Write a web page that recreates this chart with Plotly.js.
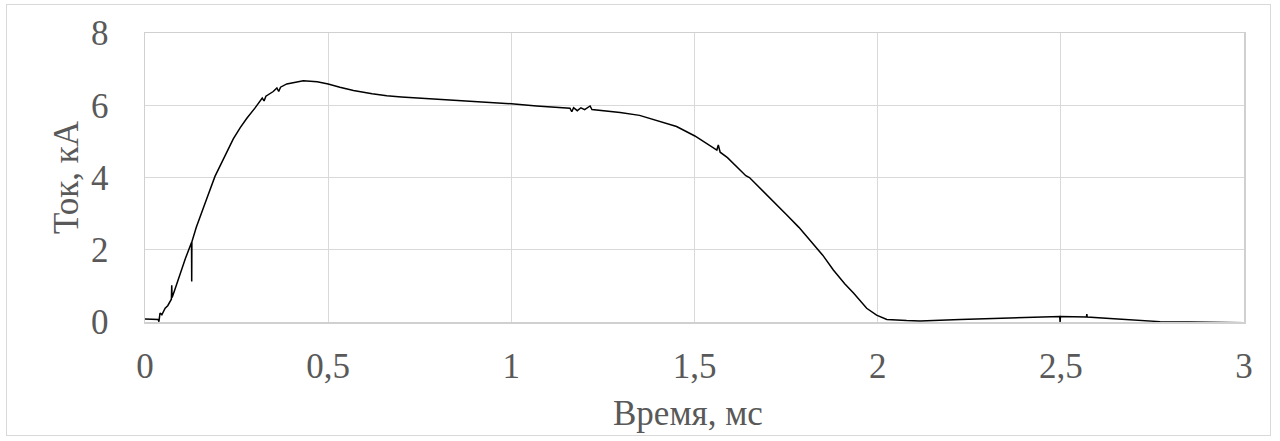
<!DOCTYPE html>
<html>
<head>
<meta charset="utf-8">
<script src="https://cdn.plot.ly/plotly-3.0.1.min.js"></script>
<style>
html,body{margin:0;padding:0;background:#fff;}
#chart{width:1280px;height:441px;}
#frame{position:absolute;left:6px;top:4px;width:1263px;height:430px;border:1px solid #d9d9d9;pointer-events:none;}
</style>
</head>
<body>
<div id="chart"></div>
<div id="frame"></div>
<script>
const timeMs = [0, 0.02, 0.036, 0.038, 0.041, 0.046, 0.05, 0.055, 0.062, 0.068, 0.072, 0.073, 0.074, 0.08, 0.09, 0.096, 0.11, 0.127, 0.1275, 0.128, 0.14, 0.15, 0.168, 0.191, 0.214, 0.228, 0.241, 0.26, 0.278, 0.30, 0.314, 0.32, 0.325, 0.33, 0.35, 0.36, 0.365, 0.37, 0.387, 0.41, 0.432, 0.47, 0.50, 0.532, 0.569, 0.62, 0.66, 0.70, 0.751, 0.80, 0.842, 0.90, 0.933, 1.0, 1.069, 1.115, 1.16, 1.165, 1.17, 1.18, 1.19, 1.20, 1.21, 1.215, 1.22, 1.25, 1.297, 1.35, 1.388, 1.42, 1.451, 1.501, 1.53, 1.561, 1.565, 1.57, 1.59, 1.62, 1.64, 1.65, 1.684, 1.72, 1.752, 1.785, 1.815, 1.85, 1.879, 1.91, 1.934, 1.955, 1.970, 1.997, 2.025, 2.079, 2.116, 2.225, 2.361, 2.497, 2.498, 2.499, 2.57, 2.571, 2.572, 2.634, 2.70, 2.771, 2.85, 2.93, 3.0];
const currentKA = [0.08, 0.08, 0.07, 0.01, 0.25, 0.2, 0.3, 0.38, 0.45, 0.55, 0.63, 1.02, 0.68, 0.85, 1.15, 1.35, 1.75, 2.2, 1.12, 2.22, 2.62, 2.92, 3.40, 4.03, 4.52, 4.80, 5.07, 5.38, 5.64, 5.92, 6.10, 6.2, 6.12, 6.25, 6.38, 6.48, 6.38, 6.50, 6.59, 6.64, 6.68, 6.65, 6.59, 6.50, 6.41, 6.32, 6.26, 6.23, 6.20, 6.17, 6.15, 6.11, 6.09, 6.04, 5.98, 5.95, 5.92, 5.82, 5.93, 5.85, 5.93, 5.88, 5.95, 5.98, 5.88, 5.85, 5.80, 5.72, 5.61, 5.52, 5.41, 5.15, 4.97, 4.76, 4.9, 4.7, 4.55, 4.26, 4.05, 4.0, 3.66, 3.29, 2.96, 2.62, 2.27, 1.85, 1.44, 1.06, 0.80, 0.57, 0.38, 0.19, 0.07, 0.04, 0.03, 0.07, 0.12, 0.15, 0.0, 0.15, 0.14, 0.22, 0.14, 0.10, 0.05, 0.01, 0.0, -0.01, -0.02];
const xTickVals = [0, 0.5, 1, 1.5, 2, 2.5, 3];
const xTickText = ["0", "0,5", "1", "1,5", "2", "2,5", "3"];
const yTickVals = [0, 2, 4, 6, 8];
const yTickText = ["0", "2", "4", "6", "8"];
const xTitle = "Время, мс";
const yTitle = "Ток, кА";

const fontFam = "'Liberation Serif', 'Times New Roman', serif";
const textColor = "#595959";
const fs = 35;

Plotly.newPlot('chart', [{
  x: timeMs, y: currentKA, type: 'scatter', mode: 'lines',
  line: {color: '#000000', width: 1.5}, hoverinfo: 'skip'
}], {
  width: 1280, height: 441,
  margin: {l: 145, r: 36, t: 33, b: 119},
  paper_bgcolor: '#ffffff', plot_bgcolor: '#ffffff',
  showlegend: false,
  font: {family: fontFam, color: textColor, size: fs},
  xaxis: {
    range: [0, 3], tickvals: xTickVals, ticktext: xTickText,
    showgrid: true, gridcolor: '#d9d9d9', gridwidth: 1.3,
    showline: true, linecolor: '#d0d0d0', linewidth: 1.5, mirror: true,
    zeroline: false, ticks: '', ticklabelstandoff: 12,
    tickfont: {family: fontFam, color: textColor, size: fs},
    fixedrange: true
  },
  yaxis: {
    range: [0, 8], tickvals: yTickVals, ticktext: yTickText,
    showgrid: true, gridcolor: '#d9d9d9', gridwidth: 1,
    showline: true, linecolor: '#d0d0d0', linewidth: 1.5, mirror: true,
    zeroline: false, ticks: '', ticklabelstandoff: 28,
    tickfont: {family: fontFam, color: textColor, size: fs},
    fixedrange: true
  },
  annotations: [
    {text: xTitle, xref: 'paper', yref: 'paper', x: (688 - 145) / 1099, y: (322 - 413) / 289,
     xanchor: 'center', yanchor: 'middle', showarrow: false,
     font: {family: fontFam, color: textColor, size: fs}},
    {text: yTitle, xref: 'paper', yref: 'paper', x: (66 - 145) / 1099, y: (322 - 177) / 289,
     xanchor: 'center', yanchor: 'middle', showarrow: false, textangle: -90,
     font: {family: fontFam, color: textColor, size: fs}}
  ]
}, {displayModeBar: false, staticPlot: true});
</script>
</body>
</html>
